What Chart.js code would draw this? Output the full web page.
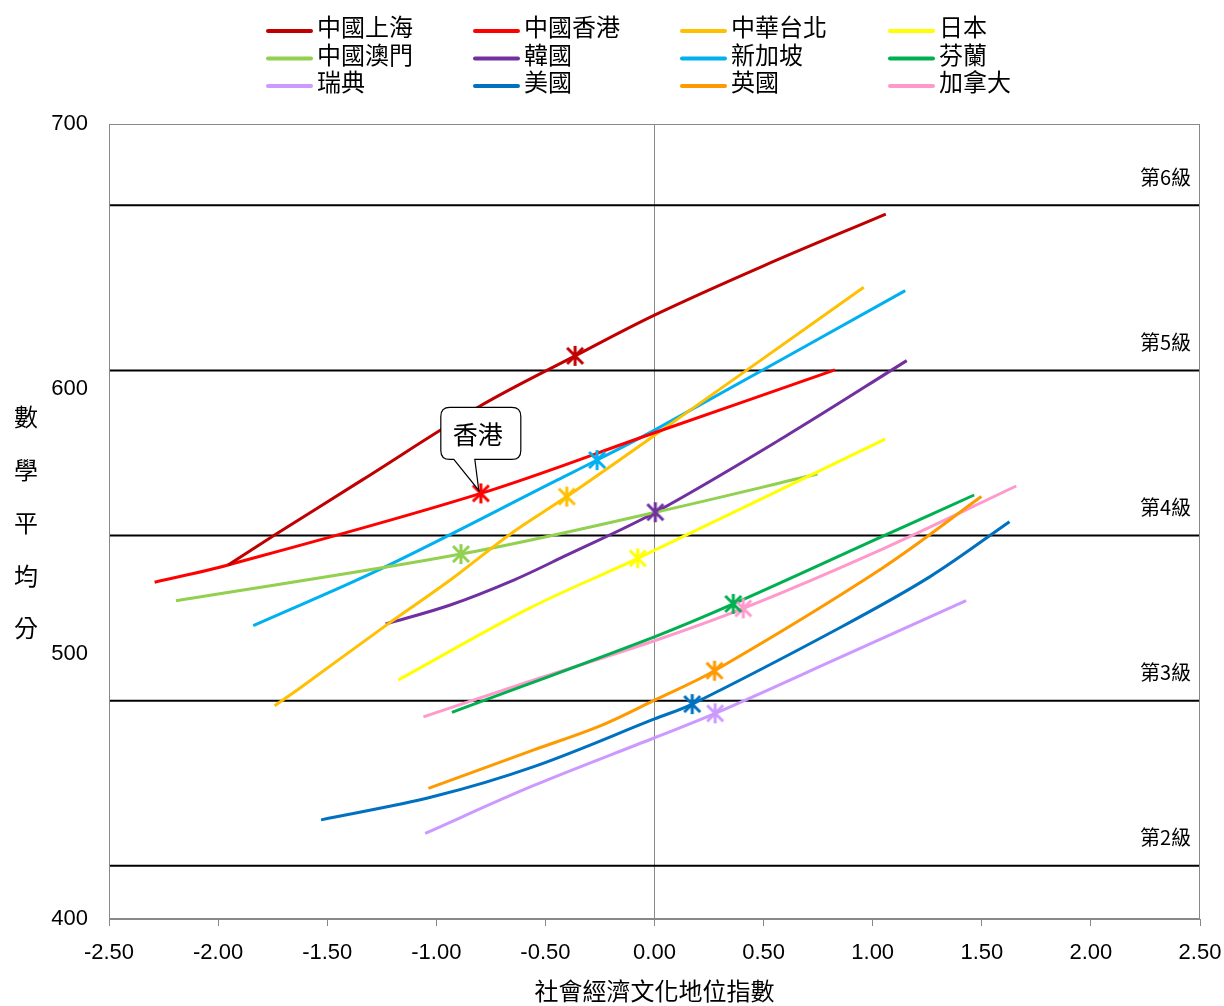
<!DOCTYPE html>
<html>
<head>
<meta charset="utf-8">
<script src="https://cdn.jsdelivr.net/npm/chart.js@4"></script>
<style>
  body { margin: 0; background: #fff; }
  #wrap { width: 1224px; height: 1006px; position: relative; }
</style>
</head>
<body>
<div id="wrap"><canvas id="pisa-chart"></canvas></div>
<script>
const CJK = '"Noto Sans CJK TC", "Noto Sans CJK SC", sans-serif';
const NUM = '"Liberation Sans", Arial, sans-serif';

// legend order
const countries = ['中國上海', '中國香港', '中華台北', '日本',
                   '中國澳門', '韓國', '新加坡', '芬蘭',
                   '瑞典', '美國', '英國', '加拿大'];

// curve points (ESCS index, maths score)
const shanghaiEscs = [-1.954, -1.741, -1.339, -0.805, -0.364, 0.0, 0.50, 1.060];
const shanghaiMath = [533.6, 544.9, 565.7, 593.3, 612.5, 627.9, 646.5, 666.0];
const hongkongEscs = [-2.291, -1.954, -0.796, 0.0, 0.827];
const hongkongMath = [527.1, 533.6, 560.6, 583.5, 607.2];
const taipeiEscs = [-1.741, -1.626, -1.232, -0.936, -0.657, -0.402, 0.0, 0.959];
const taipeiMath = [480.5, 487.1, 510.7, 527.9, 545.5, 559.4, 582.5, 638.4];
const japanEscs = [-1.174, -0.575, -0.077, 1.057];
const japanMath = [490.2, 517.2, 536.1, 581.1];
const macauEscs = [-2.193, -0.887, 0.0, 0.747];
const macauMath = [520.1, 537.7, 553.4, 567.9];
const koreaEscs = [-1.232, -0.936, -0.645, -0.410, 0.004, 0.597, 1.156];
const koreaMath = [511.3, 518.5, 527.9, 537.0, 553.5, 582.0, 610.7];
const singaporeEscs = [-1.839, -1.249, -0.444, -0.263, 0.0, 1.149];
const singaporeMath = [510.7, 532.3, 565.7, 573.2, 584.5, 637.1];
const finlandEscs = [-0.928, 0.0, 0.361, 1.042, 1.465];
const finlandMath = [478.0, 506.5, 518.9, 544.3, 560.0];
const swedenEscs = [-1.051, -0.553, 0.0, 0.278, 0.858, 1.428];
const swedenMath = [432.3, 450.4, 468.4, 477.6, 499.0, 520.1];
const usaEscs = [-1.528, -1.013, -0.553, 0.0, 0.173, 0.858, 1.263, 1.627];
const usaMath = [437.4, 446.2, 457.5, 475.5, 481.1, 510.3, 529.2, 549.9];
const ukEscs = [-1.036, -0.553, -0.246, 0.0, 0.275, 1.042, 1.498];
const ukMath = [449.3, 463.8, 473.0, 482.6, 493.7, 532.3, 559.4];
const canadaEscs = [-1.059, -0.553, 0.0, 0.407, 1.042, 1.658];
const canadaMath = [476.3, 490.2, 505.0, 517.2, 539.5, 563.4];

// country means (star markers), legend order
const meanEscs = [-0.364, -0.796, -0.402, -0.077, -0.887, 0.004, -0.263, 0.361, 0.278, 0.173, 0.275, 0.407];
const meanMath = [612.5, 560.6, 559.4, 536.1, 537.7, 553.5, 573.2, 518.9, 477.6, 481.1, 493.7, 517.2];

// proficiency level lower bounds
const levelNames = ['第2級', '第3級', '第4級', '第5級', '第6級'];
const levelScores = [420.07, 482.38, 544.68, 606.99, 669.30];

const xTicks = [-2.5, 2.5, 0.5];
const yTicks = [400, 700, 100];

const curves = [
  [shanghaiEscs, shanghaiMath], [hongkongEscs, hongkongMath], [taipeiEscs, taipeiMath], [japanEscs, japanMath],
  [macauEscs, macauMath], [koreaEscs, koreaMath], [singaporeEscs, singaporeMath], [finlandEscs, finlandMath],
  [swedenEscs, swedenMath], [usaEscs, usaMath], [ukEscs, ukMath], [canadaEscs, canadaMath]
];
const colors = ['#C00000', '#FF0000', '#FFC000', '#FFFF00',
                '#92D050', '#7030A0', '#00B0F0', '#00B050',
                '#CC99FF', '#0070C0', '#FF9900', '#FF99CC'];

// asterisk marker like the excel "star"
function starMarker(color) {
  const c = document.createElement('canvas');
  c.width = 24; c.height = 24;
  const g = c.getContext('2d');
  g.strokeStyle = color;
  g.lineWidth = 3;
  g.beginPath();
  g.moveTo(4, 4); g.lineTo(20, 20);
  g.moveTo(20, 4); g.lineTo(4, 20);
  g.moveTo(12, 2); g.lineTo(12, 22);
  g.stroke();
  return c;
}

const datasets = [];
levelScores.forEach((v, i) => {
  datasets.push({
    label: levelNames[i],
    data: [{x: xTicks[0], y: v}, {x: xTicks[1], y: v}],
    showLine: true,
    borderColor: '#000',
    borderWidth: 2,
    pointRadius: 0,
    order: 100
  });
});
curves.forEach((c, i) => {
  datasets.push({
    label: countries[i],
    data: c[0].map((x, j) => ({x: x, y: c[1][j]})),
    showLine: true,
    borderColor: colors[i],
    borderWidth: 3,
    tension: 0.35,
    pointRadius: 0,
    order: 10
  });
});
meanEscs.forEach((x, i) => {
  datasets.push({
    label: countries[i] + ' 平均',
    data: [{x: x, y: meanMath[i]}],
    pointStyle: starMarker(colors[i]),
    pointRadius: 12,
    order: 0
  });
});

const extras = {
  id: 'extras',
  beforeDraw(chart) {
    const ctx = chart.ctx;
    ctx.save();
    ctx.fillStyle = '#fff';
    ctx.fillRect(0, 0, chart.width, chart.height);
    ctx.restore();
  },
  afterDraw(chart) {
    const ctx = chart.ctx;
    const a = chart.chartArea;
    const xs = chart.scales.x, ys = chart.scales.y;
    ctx.save();

    // plot frame
    ctx.strokeStyle = '#888';
    ctx.lineWidth = 1;
    ctx.strokeRect(a.left + 0.5, a.top + 0.5, a.right - a.left - 1, a.bottom - a.top - 1);

    // level labels
    ctx.fillStyle = '#000';
    ctx.font = '20px ' + CJK;
    ctx.textAlign = 'right';
    ctx.textBaseline = 'middle';
    levelScores.forEach((v, i) => {
      ctx.fillText(levelNames[i], a.right - 9, ys.getPixelForValue(v) - 28);
    });

    // y title, one character per line
    ctx.font = '24px ' + CJK;
    ctx.textAlign = 'center';
    const yTitle = '數學平均分';
    [...yTitle].forEach((ch, i) => {
      ctx.fillText(ch, 26, 417 + i * 52.8);
    });

    // x title
    ctx.fillText('社會經濟文化地位指數', (a.left + a.right) / 2, 991);

    // legend, 4 columns
    const colX = [268, 475, 682, 890];
    const rowY = [27, 54.5, 82];
    ctx.textAlign = 'left';
    ctx.font = '24px ' + CJK;
    countries.forEach((name, i) => {
      const cx = colX[i % 4], cy = rowY[Math.floor(i / 4)];
      ctx.strokeStyle = colors[i];
      ctx.lineWidth = 4;
      ctx.lineCap = 'round';
      ctx.beginPath();
      ctx.moveTo(cx, cy + 4);
      ctx.lineTo(cx + 43, cy + 4);
      ctx.stroke();
      ctx.fillStyle = '#000';
      ctx.fillText(name, cx + 49, cy);
    });

    // callout for Hong Kong
    const mx = xs.getPixelForValue(meanEscs[1]);
    const my = ys.getPixelForValue(meanMath[1]);
    const L = mx - 40, R = mx + 40, T = my - 86, B = my - 34, r = 9;
    ctx.beginPath();
    ctx.moveTo(L + r, T);
    ctx.lineTo(R - r, T);
    ctx.quadraticCurveTo(R, T, R, T + r);
    ctx.lineTo(R, B - r);
    ctx.quadraticCurveTo(R, B, R - r, B);
    ctx.lineTo(mx - 6, B);
    ctx.lineTo(mx - 2, my - 3);
    ctx.lineTo(mx - 27, B);
    ctx.lineTo(L + r, B);
    ctx.quadraticCurveTo(L, B, L, B - r);
    ctx.lineTo(L, T + r);
    ctx.quadraticCurveTo(L, T, L + r, T);
    ctx.closePath();
    ctx.fillStyle = '#fff';
    ctx.fill();
    ctx.strokeStyle = '#000';
    ctx.lineWidth = 1.2;
    ctx.lineCap = 'butt';
    ctx.stroke();
    ctx.fillStyle = '#000';
    ctx.textAlign = 'center';
    ctx.font = '25px ' + CJK;
    ctx.fillText('香港', mx - 3, T + 27);

    ctx.restore();
  }
};

new Chart(document.getElementById('pisa-chart'), {
  type: 'scatter',
  data: { datasets: datasets },
  options: {
    responsive: true,
    maintainAspectRatio: false,
    animation: false,
    layout: { padding: { top: 124, right: 24, left: 0, bottom: 0 } },
    plugins: {
      legend: { display: false },
      tooltip: { enabled: false }
    },
    scales: {
      x: {
        type: 'linear',
        min: xTicks[0],
        max: xTicks[1],
        afterFit(scale) {
          scale.height = 87;
          scale.paddingLeft = 0;
          scale.paddingRight = 0;
        },
        ticks: {
          stepSize: xTicks[2],
          color: '#000',
          font: { family: NUM, size: 22 },
          padding: 14,
          callback: v => v.toFixed(2)
        },
        grid: {
          color: c => (c.tick && c.tick.value === 0) ? '#888' : 'transparent',
          tickColor: '#888',
          tickLength: 7,
          lineWidth: 1
        },
        border: { color: '#888' }
      },
      y: {
        type: 'linear',
        min: yTicks[0],
        max: yTicks[1],
        afterFit(scale) {
          scale.width = 109;
          scale.paddingTop = 0;
          scale.paddingBottom = 0;
        },
        ticks: {
          stepSize: yTicks[2],
          color: '#000',
          font: { family: NUM, size: 22 },
          padding: 21
        },
        grid: { display: false, drawTicks: false },
        border: { color: '#888' }
      }
    }
  },
  plugins: [extras]
});
</script>
</body>
</html>
